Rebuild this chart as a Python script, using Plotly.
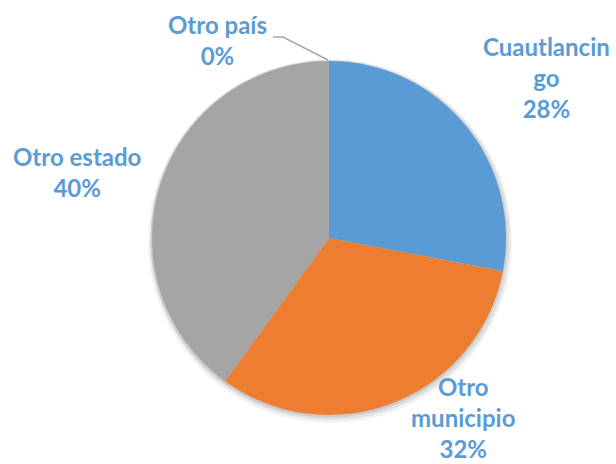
import plotly.graph_objects as go

categories = ["Cuautlancingo", "Otro municipio", "Otro estado", "Otro país"]
values = [28, 32, 40, 0]
pct_labels = ["28%", "32%", "40%", "0%"]
label_text = ["Cuautlancin<br>go", "Otro<br>municipio", "Otro estado", "Otro país"]
colors = ["#5B9BD5", "#ED7D31", "#A5A5A5", "#FFC000"]

W, H = 616, 464
cx, cy, r = 329, 238, 177

def dom(cx, cy, r):
    return dict(x=[(cx - r) / W, (cx + r) / W], y=[(H - (cy + r)) / H, (H - (cy - r)) / H])

fig = go.Figure()
# soft shadow
for dx, dy, dr, a in [(1, 3, 5, 0.05), (1, 2, 3, 0.07), (0, 1, 1.5, 0.09)]:
    fig.add_trace(go.Pie(values=[1], marker=dict(colors=[f"rgba(0,0,0,{a})"], line=dict(width=0)),
                         textinfo="none", hoverinfo="skip", showlegend=False, sort=False,
                         domain=dom(cx + dx, cy + dy, r + dr)))
fig.add_trace(go.Pie(
    labels=categories, values=values, sort=False, direction="clockwise", rotation=0,
    marker=dict(colors=colors, line=dict(width=0)),
    textinfo="none", showlegend=False, domain=dom(cx, cy, r),
))

label_pos = [(546, 77), (463, 417), (77, 172), (217, 40)]
font = dict(family="Lato", size=24, color="#5B9BD5")
for txt, pct, (x, y) in zip(label_text, pct_labels, label_pos):
    fig.add_annotation(x=x / W, y=(H - y) / H, xref="paper", yref="paper",
                       text=f"<b>{txt}<br>{pct}</b>", showarrow=False,
                       xanchor="center", yanchor="middle", align="center", font=font)

# leader line for Otro país
fig.add_shape(type="path", xref="paper", yref="paper",
              path=f"M {273/W} {(H-37)/H} L {283/W} {(H-37)/H} L {328/W} {(H-60)/H}",
              line=dict(color="#A6A6A6", width=1.5))

fig.update_layout(width=W, height=H, margin=dict(l=0, r=0, t=0, b=0),
                  paper_bgcolor="white", plot_bgcolor="white")
fig.write_html("out.html", config={"displayModeBar": False},
               post_script="document.body.style.margin='0';document.body.style.overflow='hidden';")
